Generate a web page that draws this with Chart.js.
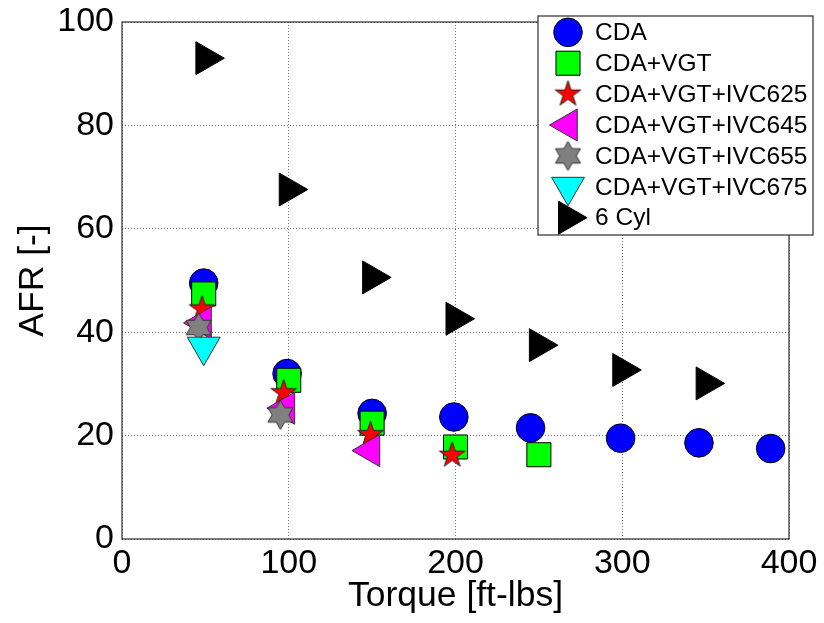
<!DOCTYPE html>
<html>
<head>
<meta charset="utf-8">
<script src="https://cdn.jsdelivr.net/npm/chart.js@4.4.0/dist/chart.umd.min.js"></script>
<style>
html,body{margin:0;padding:0;background:#fff;}
#wrap{width:824px;height:623px;}
</style>
</head>
<body>
<div id="wrap"><canvas id="c" width="824" height="623"></canvas></div>
<script>
// ---- data ----
const seriesNames = ['CDA', 'CDA+VGT', 'CDA+VGT+IVC625', 'CDA+VGT+IVC645', 'CDA+VGT+IVC655', 'CDA+VGT+IVC675', '6 Cyl'];

const cdaTorque = [49, 99, 150, 199, 245, 299, 346, 389];
const cdaAFR    = [49.5, 32.0, 24.3, 23.6, 21.5, 19.5, 18.6, 17.5];

const vgtTorque = [49, 100, 150, 200, 250];
const vgtAFR    = [47.4, 30.7, 22.4, 17.8, 16.3];

const ivc625Torque = [48, 97, 149, 198];
const ivc625AFR    = [44.5, 28.3, 20.2, 16.2];

const ivc645Torque = [48, 98, 149];
const ivc645AFR    = [41.8, 25.3, 17.1];

const ivc655Torque = [46, 95];
const ivc655AFR    = [40.9, 24.0];

const ivc675Torque = [49];
const ivc675AFR    = [37.2];

const cyl6Torque = [50, 100, 150, 200, 250, 300, 350];
const cyl6AFR    = [93.0, 67.6, 50.6, 42.6, 37.5, 32.7, 30.1];

const xTicks = [0, 100, 200, 300, 400];
const yTicks = [0, 20, 40, 60, 80, 100];

const xTitle = 'Torque [ft-lbs]';
const yTitle = 'AFR [-]';

// ---- helpers ----
function pts(xs, ys) { return xs.map((x, i) => ({x: x, y: ys[i]})); }

function starCanvas(points, outerR, innerR, fill, stroke) {
  const s = Math.ceil(outerR * 2 + 4);
  const cv = document.createElement('canvas');
  cv.width = s; cv.height = s;
  const g = cv.getContext('2d');
  const c = s / 2;
  g.beginPath();
  for (let i = 0; i < points * 2; i++) {
    const r = (i % 2 === 0) ? outerR : innerR;
    const a = -Math.PI / 2 + i * Math.PI / points;
    const px = c + r * Math.cos(a), py = c + r * Math.sin(a);
    if (i === 0) g.moveTo(px, py); else g.lineTo(px, py);
  }
  g.closePath();
  g.fillStyle = fill; g.fill();
  g.lineWidth = 1; g.strokeStyle = stroke; g.stroke();
  return cv;
}

const pentagram = starCanvas(5, 13.5, 13.5 * 0.382, '#ff0000', '#222');
const hexagram  = starCanvas(6, 14.5, 14.5 / Math.sqrt(3), '#808080', '#333');

const styles = [
  {bg: '#0000ff', bc: '#000', ps: 'circle',   r: 14.3, rot: 0},
  {bg: '#00ff00', bc: '#000', ps: 'rect',     r: 17,  rot: 0},
  {bg: '#ff0000', bc: '#222', ps: pentagram,  r: 14,  rot: 0},
  {bg: '#ff00ff', bc: '#333', ps: 'triangle', r: 18.5, rot: -90},
  {bg: '#808080', bc: '#333', ps: hexagram,   r: 15,  rot: 0},
  {bg: '#00ffff', bc: '#333', ps: 'triangle', r: 19,  rot: 180},
  {bg: '#000000', bc: '#000', ps: 'triangle', r: 19,  rot: 90}
];

const seriesData = [
  pts(cdaTorque, cdaAFR),
  pts(vgtTorque, vgtAFR),
  pts(ivc625Torque, ivc625AFR),
  pts(ivc645Torque, ivc645AFR),
  pts(ivc655Torque, ivc655AFR),
  pts(ivc675Torque, ivc675AFR),
  pts(cyl6Torque, cyl6AFR)
];

const datasets = seriesNames.map((name, i) => ({
  label: name,
  data: seriesData[i],
  backgroundColor: styles[i].bg,
  borderColor: styles[i].bc,
  borderWidth: 1,
  pointStyle: styles[i].ps,
  pointRadius: styles[i].r,
  pointRotation: styles[i].rot,
  order: seriesNames.length - i   // later series drawn on top
}));

const FONT = "'Liberation Sans', Arial, Helvetica, sans-serif";

const boxPlugin = {
  id: 'boxPlugin',
  beforeDatasetsDraw(chart) {
    const {ctx, chartArea: a} = chart;
    ctx.save();
    ctx.strokeStyle = '#3c3c3c';
    ctx.lineWidth = 1.3;
    ctx.strokeRect(a.left, a.top, a.right - a.left, a.bottom - a.top);
    ctx.restore();
  }
};

const legendPlugin = {
  id: 'matLegend',
  afterDraw(chart) {
    const {ctx, chartArea: a} = chart;
    const left = a.right - 251, top = a.top - 6, right = a.right + 24, bottom = a.top + 213;
    ctx.save();
    ctx.fillStyle = '#fff';
    ctx.fillRect(left, top, right - left, bottom - top);
    ctx.strokeStyle = '#3c3c3c';
    ctx.lineWidth = 1.3;
    ctx.strokeRect(left, top, right - left, bottom - top);
    const rowH = 30.9;
    const y0 = top + 16.3;
    ctx.font = '24.5px ' + FONT;
    ctx.textBaseline = 'middle';
    ctx.textAlign = 'left';
    chart.data.datasets.forEach((ds, i) => {
      const cy = y0 + i * rowH;
      const cx = left + 30;
      ctx.fillStyle = ds.backgroundColor;
      ctx.strokeStyle = ds.borderColor;
      ctx.lineWidth = 1;
      Chart.helpers.drawPoint(ctx, {
        pointStyle: ds.pointStyle, radius: ds.pointRadius,
        rotation: ds.pointRotation, borderWidth: 1
      }, cx, cy);
      ctx.fillStyle = '#000';
      ctx.fillText(ds.label, left + 57, cy + 1);
    });
    ctx.restore();
  }
};

const gridOpts = {color: 'rgba(0,0,0,0.55)', lineWidth: 1, drawTicks: false, tickLength: 0};
const borderOpts = {display: false, dash: [1, 2]};

new Chart(document.getElementById('c'), {
  type: 'scatter',
  data: {datasets: datasets},
  options: {
    responsive: false,
    animation: false,
    events: [],
    layout: {padding: {top: 22, right: 35, left: 0, bottom: 0}},
    plugins: {legend: {display: false}, tooltip: {enabled: false}},
    scales: {
      x: {
        type: 'linear', min: xTicks[0], max: xTicks[xTicks.length - 1],
        afterBuildTicks: (s) => { s.ticks = xTicks.map(v => ({value: v})); },
        afterFit: (s) => { s.height = 84; },
        ticks: {font: {size: 34, family: FONT}, color: '#000', padding: 4, maxRotation: 0},
        grid: gridOpts, border: borderOpts,
        title: {display: true, text: xTitle, font: {size: 35.5, family: FONT}, color: '#000', padding: {top: 0, bottom: 5}}
      },
      y: {
        type: 'linear', min: yTicks[0], max: yTicks[yTicks.length - 1],
        afterBuildTicks: (s) => { s.ticks = yTicks.map(v => ({value: v})); },
        afterFit: (s) => { s.width = 122; },
        ticks: {font: {size: 34, family: FONT, lineHeight: 0.8}, color: '#000', padding: 8},
        grid: gridOpts, border: borderOpts,
        title: {display: true, text: yTitle, font: {size: 35.5, family: FONT}, color: '#000', padding: {top: 12, bottom: 0}}
      }
    }
  },
  plugins: [boxPlugin, legendPlugin]
});
</script>
</body>
</html>
